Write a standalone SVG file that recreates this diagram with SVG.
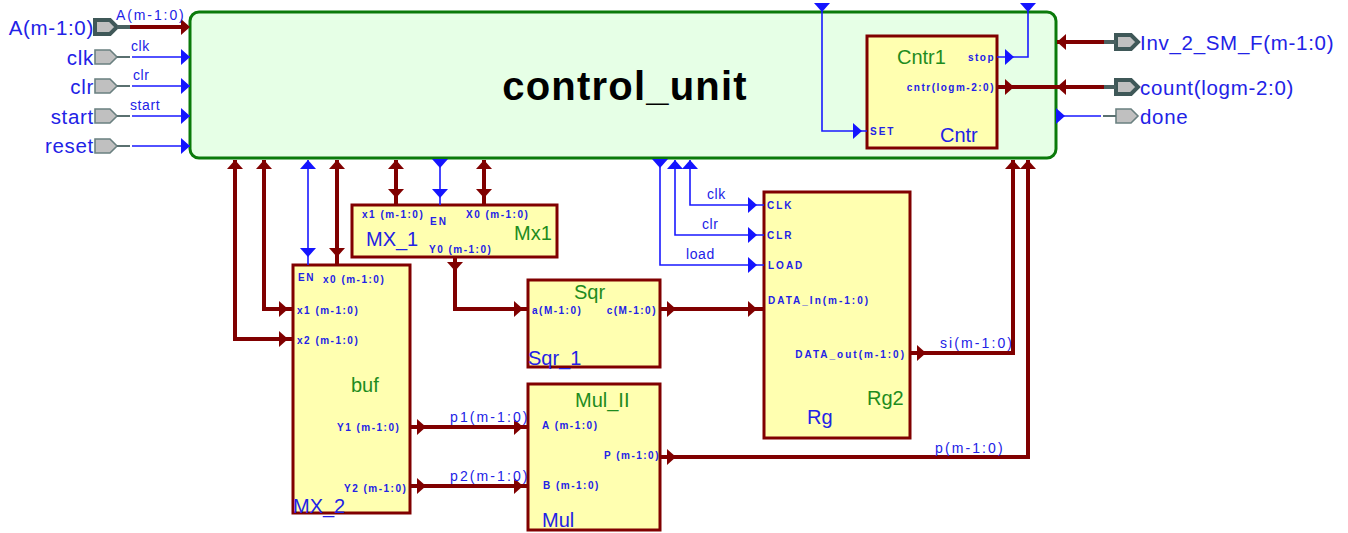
<svg xmlns="http://www.w3.org/2000/svg" width="1348" height="533" viewBox="0 0 1348 533">
<style>
text{font-family:"Liberation Sans",Arial,sans-serif;fill:#2222e6}
.g{fill:#1e8c1e}
.n{font-size:20px}
.pin{font-size:20.5px;letter-spacing:.7px}
.w{font-size:14px;letter-spacing:.6px}
.wl{font-size:14px;letter-spacing:2.1px}
.p{font-size:10px;font-weight:bold;letter-spacing:1.5px}
.dd{letter-spacing:2px}
.e{text-anchor:end}
.blk{fill:#ffffb0;stroke:#800000;stroke-width:3}
.th{fill:none;stroke:#800000;stroke-width:4}
.tn{fill:none;stroke:#1a1aff;stroke-width:1.6}
.st{fill:none;stroke:#5a7070;stroke-width:2}
.sth{fill:none;stroke:#4a6060;stroke-width:4}
.ar-t{fill:#800000}
.ar-b{fill:#1414ff}
.pi{fill:#c0c0c0;stroke:#6a8080;stroke-width:1.6}
.pib{fill:#c0c0c0;stroke:#3f5858;stroke-width:4}
</style>
<defs>
<path id="r" d="M-9-8 0 0-9 8z"/>
<path id="l" d="M9-8 0 0 9 8z"/>
<path id="u" d="M-8 9 0 0 8 9z"/>
<path id="d" d="M-8-9 0 0 8-9z"/>
<path id="pn" d="M0-7H15L22 0 15 7H0z"/>
</defs>

<g id="control_unit">
<rect x="190" y="12" width="866" height="146" rx="9" fill="#e6ffe6" stroke="#0a7a0a" stroke-width="3"/>
<text x="625" y="100" text-anchor="middle" font-size="40" font-weight="bold" letter-spacing="1.2" style="fill:#000">control_unit</text>
</g>

<g id="Cntr1">
<rect class="blk" x="867" y="36" width="130" height="112"/>
<text class="n g" x="897" y="64">Cntr1</text>
<text class="n" x="940" y="142">Cntr</text>
<text class="p e" x="995" y="61">stop</text>
<text class="p e" x="995" y="91">cntr(logm-2:0)</text>
<text class="p dd" x="870" y="135">SET</text>
</g>

<g id="MX_1">
<rect class="blk" x="352" y="205" width="205" height="52"/>
<text class="n" x="366" y="246">MX_1</text>
<text class="n g" x="514" y="240">Mx1</text>
<text class="p" x="362" y="218">x1 (m-1:0)</text>
<text class="p dd" x="430" y="225">EN</text>
<text class="p" x="466" y="218">X0 (m-1:0)</text>
<text class="p" x="429" y="253">Y0 (m-1:0)</text>
</g>

<g id="MX_2">
<rect class="blk" x="293" y="265" width="117" height="248"/>
<text class="n g" x="351" y="392">buf</text>
<text class="n" x="293" y="513">MX_2</text>
<text class="p" x="298" y="281">EN</text>
<text class="p" x="323" y="283">x0 (m-1:0)</text>
<text class="p" x="297" y="314">x1 (m-1:0)</text>
<text class="p" x="297" y="344">x2 (m-1:0)</text>
<text class="p" x="337" y="431">Y1 (m-1:0)</text>
<text class="p" x="344" y="492">Y2 (m-1:0)</text>
</g>

<g id="Sqr_1">
<rect class="blk" x="528" y="280" width="132" height="87"/>
<text class="n g" x="574" y="299">Sqr</text>
<text class="n" x="528" y="365">Sqr_1</text>
<text class="p" x="532" y="314">a(M-1:0)</text>
<text class="p e" x="657" y="314">c(M-1:0)</text>
</g>

<g id="Mul_II">
<rect class="blk" x="528" y="384" width="132" height="146"/>
<text class="n g" x="575" y="407">Mul_II</text>
<text class="n" x="542" y="527">Mul</text>
<text class="p" x="542" y="429">A (m-1:0)</text>
<text class="p" x="543" y="489">B (m-1:0)</text>
<text class="p e" x="660" y="459">P (m-1:0)</text>
</g>

<g id="Rg2">
<rect class="blk" x="764" y="192" width="146" height="246"/>
<text class="n g" x="867" y="405">Rg2</text>
<text class="n" x="807" y="424">Rg</text>
<text class="p dd" x="767" y="209">CLK</text>
<text class="p dd" x="767" y="239">CLR</text>
<text class="p dd" x="768" y="269">LOAD</text>
<text class="p dd" x="768" y="304">DATA_In(m-1:0)</text>
<text class="p dd e" x="906" y="358">DATA_out(m-1:0)</text>
</g>

<g id="pin_A"><use href="#pn" x="95" y="27" class="pib"/><text class="pin e" x="94" y="35">A(m-1:0)</text></g>
<g id="pin_clk"><use href="#pn" x="95" y="57" class="pi"/><text class="pin e" x="94" y="65">clk</text></g>
<g id="pin_clr"><use href="#pn" x="95" y="86" class="pi"/><text class="pin e" x="94" y="94">clr</text></g>
<g id="pin_start"><use href="#pn" x="95" y="116" class="pi"/><text class="pin e" x="94" y="124">start</text></g>
<g id="pin_reset"><use href="#pn" x="95" y="146" class="pi"/><text class="pin e" x="94" y="153">reset</text></g>
<g id="pin_Inv"><use href="#pn" x="1116" y="42" class="pib"/><text class="pin" x="1140" y="50">Inv_2_SM_F(m-1:0)</text></g>
<g id="pin_count"><use href="#pn" x="1116" y="87" class="pib"/><text class="pin" x="1140" y="95">count(logm-2:0)</text></g>
<g id="pin_done"><use href="#pn" x="1116" y="116" class="pi"/><text class="pin" x="1140" y="124">done</text></g>

<g id="connectors">
<path class="sth" d="M117 27H130M1104 42H1116M1104 87H1116"/>
<path class="st" d="M117 57H130M117 86H130M117 116H130M117 146H130M1103 116H1116"/>
<path class="th" d="M130 27H188M1057 42H1104M997 87H1104"/>
<path class="tn" d="M132 57H190M132 86H190M132 116H190M132 146H190M1056 116H1101"/>
<path class="tn" d="M822 8V131H867M1028 8V57H997"/>
<path class="th" d="M235 160V339H293M264 160V309H293M337 160V265M396 160V205M484 160V205M455 257V309H528"/>
<path class="tn" d="M308 160V265M440 160V205M690 160V205H764M675 160V235H764M660 160V265H764"/>
<path class="th" d="M660 309H764M910 353H1013V160M660 457H1028V160M410 427H528M410 486H528"/>

<g class="ar-t">
<use href="#r" x="190" y="27"/>
<use href="#l" x="1057" y="42"/>
<use href="#l" x="1057" y="87"/>
<use href="#r" x="1014" y="87"/>
<use href="#u" x="235" y="160"/><use href="#u" x="264" y="160"/><use href="#u" x="337" y="160"/>
<use href="#d" x="337" y="257"/>
<use href="#u" x="396" y="160"/><use href="#d" x="396" y="198"/>
<use href="#u" x="484" y="160"/><use href="#d" x="484" y="198"/>
<use href="#d" x="455" y="271"/>
<use href="#r" x="288" y="339"/><use href="#r" x="288" y="309"/>
<use href="#r" x="523" y="309"/>
<use href="#r" x="676" y="309"/><use href="#r" x="757" y="309"/>
<use href="#r" x="926" y="353"/><use href="#r" x="676" y="457"/>
<use href="#u" x="1013" y="160"/><use href="#u" x="1028" y="160"/>
<use href="#r" x="426" y="427"/><use href="#r" x="523" y="427"/>
<use href="#r" x="426" y="486"/><use href="#r" x="523" y="486"/>
</g>
<g class="ar-b">
<use href="#r" x="190" y="57"/><use href="#r" x="190" y="86"/><use href="#r" x="190" y="116"/><use href="#r" x="190" y="146"/>
<use href="#r" x="1065" y="116"/>
<use href="#d" x="822" y="12"/><use href="#d" x="1028" y="12"/>
<use href="#r" x="862" y="131"/>
<use href="#r" x="1014" y="57"/>
<use href="#u" x="308" y="160"/><use href="#d" x="308" y="257"/>
<use href="#d" x="440" y="168"/><use href="#d" x="440" y="198"/>
<use href="#d" x="660" y="168"/><use href="#u" x="675" y="160"/><use href="#u" x="690" y="160"/>
<use href="#r" x="757" y="205"/><use href="#r" x="757" y="235"/><use href="#r" x="757" y="265"/>
</g>
<text class="w" x="116" y="20" style="letter-spacing:1.9px">A(m-1:0)</text>
<text class="w" x="131" y="51">clk</text>
<text class="w" x="133" y="80">clr</text>
<text class="w" x="130" y="110">start</text>
<text class="w" x="707" y="199">clk</text>
<text class="w" x="702" y="229">clr</text>
<text class="w" x="686" y="259">load</text>
<text class="wl" x="940" y="348">si(m-1:0)</text>
<text class="wl" x="935" y="453">p(m-1:0)</text>
<text class="wl" x="450" y="422">p1(m-1:0)</text>
<text class="wl" x="450" y="481">p2(m-1:0)</text>
</g>
</svg>
